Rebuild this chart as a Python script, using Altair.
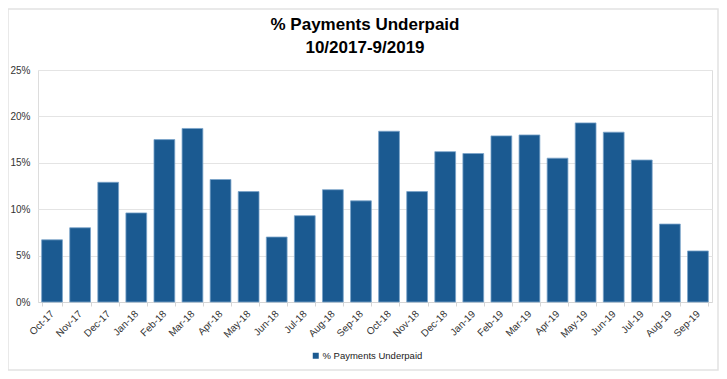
import altair as alt
import pandas as pd

months = ["Oct-17", "Nov-17", "Dec-17", "Jan-18", "Feb-18", "Mar-18", "Apr-18", "May-18",
          "Jun-18", "Jul-18", "Aug-18", "Sep-18", "Oct-18", "Nov-18", "Dec-18", "Jan-19",
          "Feb-19", "Mar-19", "Apr-19", "May-19", "Jun-19", "Jul-19", "Aug-19", "Sep-19"]
underpaid = [0.067, 0.080, 0.129, 0.096, 0.175, 0.187, 0.132, 0.119,
             0.070, 0.093, 0.121, 0.109, 0.184, 0.119, 0.162, 0.160,
             0.179, 0.180, 0.155, 0.193, 0.183, 0.153, 0.084, 0.055]
series_name = "% Payments Underpaid"
y_ticks = [0, 0.05, 0.10, 0.15, 0.20, 0.25]

df = pd.DataFrame({"month": months, "value": underpaid, "series": series_name})

FONT = "Liberation Sans"

bars = alt.Chart(df).mark_bar(
    stroke="#7aa3c9", strokeWidth=0.8
).encode(
    x=alt.X("month:N", sort=months,
            scale=alt.Scale(paddingInner=0.26, paddingOuter=0.13),
            axis=alt.Axis(title=None, labelAngle=-45, labelAlign="right", labelBaseline="middle",
                          labelFontSize=10, labelColor="#333333", labelFont=FONT,
                          labelPadding=6, tickBand="extent", tickColor="#d6d6d6",
                          tickSize=4, domainColor="#d6d6d6", grid=False, labelOverlap=False)),
    y=alt.Y("value:Q", scale=alt.Scale(domain=[0, 0.25], nice=False),
            axis=alt.Axis(title=None, values=y_ticks, format=".0%", domain=False, ticks=False,
                          labelPadding=8, labelFontSize=10, labelColor="#333333", labelFont=FONT,
                          gridColor="#e4e4e4", grid=True)),
    color=alt.Color("series:N",
                    scale=alt.Scale(domain=[series_name], range=["#1b5a91"]),
                    legend=alt.Legend(title=None, orient="none", legendX=273, legendY=281,
                                      symbolType="square", symbolSize=36, symbolStrokeWidth=0,
                                      labelFontSize=9.5, labelFont=FONT, labelColor="#222222",
                                      labelOffset=2, padding=0, labelLimit=300)),
)

border = alt.Chart(alt.Data(values=[{"b": 1}])).mark_rect(
    fill=None, stroke="#e2e2e2", strokeWidth=1.5
).encode(
    x=alt.value(-30), x2=alt.value(680), y=alt.value(-61), y2=alt.value(300)
)

chart = alt.layer(border, bars).properties(
    width=674, height=232,
    title=alt.TitleParams(text=["% Payments Underpaid", "10/2017-9/2019"],
                          font=FONT, fontSize=17, fontWeight="bold", color="#000000",
                          anchor="middle", dx=-10, lineHeight=23, offset=-49),
    padding={"left": 30, "top": 62, "right": 7, "bottom": 69},
    autosize=alt.AutoSizeParams(type="none"),
).configure_view(stroke=None).configure(background="white")

chart.save("out.html", embed_options={"renderer": "svg", "actions": False})
